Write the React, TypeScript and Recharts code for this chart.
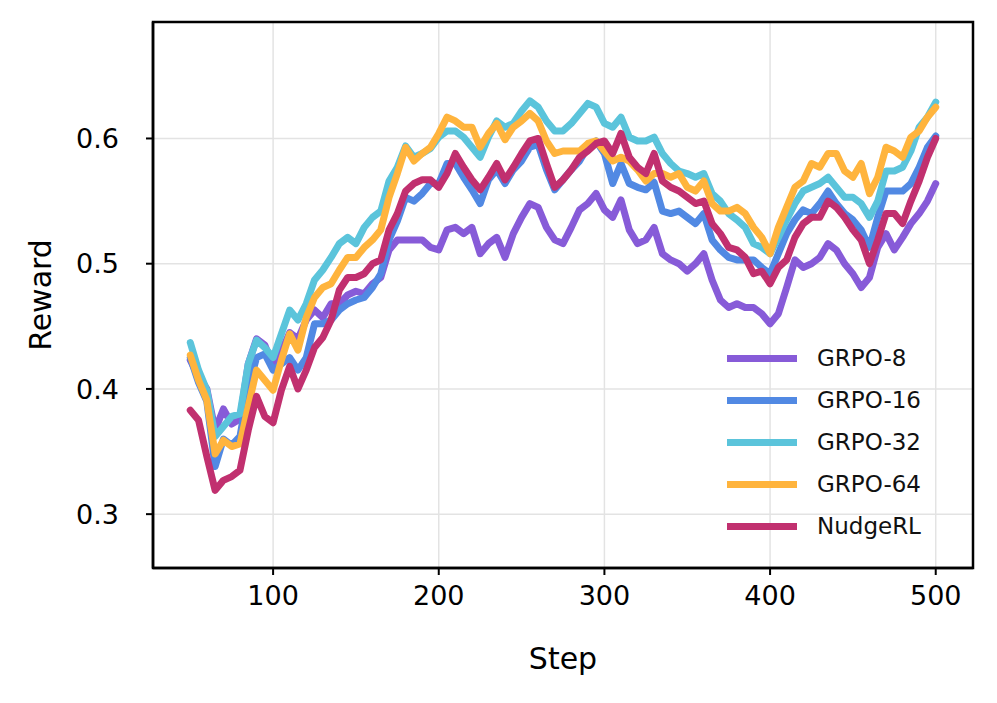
import React from "react";
import { LineChart, Line, XAxis, YAxis, CartesianGrid, Legend, Label, ReferenceArea } from "recharts";

// Training steps (every 5 steps from 50 to 500)
const steps: number[] = [];
for (let s = 50; s <= 500; s += 5) steps.push(s);

const grpo8 = [
  0.423, 0.41, 0.4, 0.367, 0.384, 0.372, 0.376, 0.42, 0.44, 0.435,
  0.418, 0.43, 0.445, 0.44, 0.455, 0.463, 0.457, 0.468, 0.468, 0.475,
  0.478, 0.476, 0.484, 0.489, 0.511, 0.519, 0.519, 0.519, 0.519, 0.513,
  0.511, 0.527, 0.529, 0.524, 0.529, 0.508, 0.516, 0.521, 0.505, 0.524,
  0.537, 0.548, 0.545, 0.529, 0.519, 0.516, 0.529, 0.543, 0.548, 0.556,
  0.543, 0.537, 0.551, 0.527, 0.516, 0.519, 0.529, 0.508, 0.503, 0.5,
  0.494, 0.5, 0.508, 0.487, 0.471, 0.465, 0.468, 0.465, 0.465, 0.46,
  0.452, 0.46, 0.481, 0.503, 0.497, 0.5, 0.505, 0.516, 0.511, 0.5,
  0.492, 0.481, 0.489, 0.513, 0.524, 0.511, 0.521, 0.532, 0.54, 0.55,
  0.564,
];

const grpo16 = [
  0.425, 0.405, 0.39, 0.338, 0.36, 0.355, 0.362, 0.4, 0.425, 0.428,
  0.415, 0.42, 0.425, 0.415, 0.425, 0.452, 0.452, 0.455, 0.463, 0.468,
  0.471, 0.473, 0.481, 0.492, 0.519, 0.534, 0.553, 0.55, 0.556, 0.564,
  0.564, 0.58, 0.58, 0.569, 0.559, 0.548, 0.567, 0.575, 0.564, 0.575,
  0.582, 0.593, 0.595, 0.575, 0.559, 0.567, 0.575, 0.582, 0.593, 0.598,
  0.588, 0.564, 0.58, 0.564, 0.561, 0.559, 0.565, 0.542, 0.54, 0.542,
  0.537, 0.532, 0.54, 0.519, 0.511, 0.505, 0.503, 0.503, 0.503, 0.497,
  0.492, 0.508, 0.524, 0.535, 0.543, 0.54, 0.548, 0.558, 0.548, 0.54,
  0.535, 0.527, 0.513, 0.537, 0.558, 0.558, 0.558, 0.564, 0.577, 0.593,
  0.602,
];

const grpo32 = [
  0.437, 0.415, 0.399, 0.362, 0.37, 0.378, 0.38, 0.42, 0.439, 0.433,
  0.425, 0.444, 0.463, 0.455, 0.468, 0.487, 0.495, 0.505, 0.516, 0.521,
  0.516, 0.529, 0.537, 0.542, 0.566, 0.577, 0.594, 0.585, 0.588, 0.592,
  0.601, 0.606, 0.606, 0.601, 0.593, 0.585, 0.601, 0.614, 0.609, 0.612,
  0.622, 0.63, 0.625, 0.614, 0.606, 0.606, 0.612, 0.62, 0.628, 0.625,
  0.612, 0.609, 0.617, 0.601, 0.598, 0.598, 0.601, 0.588, 0.58, 0.574,
  0.572, 0.569, 0.572, 0.556, 0.55, 0.54, 0.535, 0.529, 0.516, 0.513,
  0.508, 0.521, 0.535, 0.548, 0.558, 0.561, 0.564, 0.569, 0.561, 0.553,
  0.553, 0.548, 0.537, 0.55, 0.574, 0.574, 0.577, 0.59, 0.609, 0.617,
  0.629,
];

const grpo64 = [
  0.427, 0.407, 0.391, 0.348, 0.359, 0.354, 0.356, 0.386, 0.415, 0.407,
  0.399, 0.423, 0.444, 0.431, 0.457, 0.473, 0.481, 0.484, 0.495, 0.505,
  0.505, 0.513, 0.519, 0.527, 0.553, 0.572, 0.593, 0.582, 0.588, 0.593,
  0.604, 0.617, 0.614, 0.609, 0.609, 0.593, 0.604, 0.612, 0.599, 0.609,
  0.614, 0.62, 0.614, 0.598, 0.588, 0.59, 0.59, 0.59, 0.596, 0.598,
  0.59, 0.582, 0.585, 0.582, 0.575, 0.566, 0.572, 0.572, 0.569, 0.572,
  0.561, 0.558, 0.566, 0.548, 0.542, 0.542, 0.545, 0.54, 0.529, 0.521,
  0.508, 0.529, 0.545, 0.561, 0.566, 0.58, 0.577, 0.588, 0.588, 0.574,
  0.569, 0.58, 0.556, 0.569, 0.593, 0.59, 0.585, 0.601, 0.606, 0.617,
  0.625,
];

const nudgeRL = [
  0.383, 0.375, 0.346, 0.319, 0.327, 0.33, 0.335, 0.367, 0.394, 0.378,
  0.373, 0.399, 0.418, 0.4, 0.415, 0.433, 0.441, 0.455, 0.479, 0.489,
  0.489, 0.492, 0.5, 0.503, 0.527, 0.54, 0.558, 0.564, 0.567, 0.567,
  0.561, 0.572, 0.588, 0.577, 0.567, 0.559, 0.569, 0.58, 0.567, 0.577,
  0.588, 0.598, 0.6, 0.58, 0.561, 0.567, 0.575, 0.585, 0.59, 0.596,
  0.598, 0.588, 0.604, 0.585, 0.577, 0.572, 0.588, 0.566, 0.561, 0.558,
  0.553, 0.548, 0.55, 0.532, 0.524, 0.513, 0.511, 0.505, 0.492, 0.494,
  0.484, 0.497, 0.503, 0.521, 0.532, 0.537, 0.537, 0.55, 0.545, 0.537,
  0.527, 0.519, 0.5, 0.519, 0.54, 0.54, 0.532, 0.55, 0.566, 0.585,
  0.6,
];

const xTicks = [100, 200, 300, 400, 500];
const yTicks = [0.3, 0.4, 0.5, 0.6];
const xDomain: [number, number] = [27.5, 522.5];
const yDomain: [number, number] = [0.257, 0.693];

const seriesList = [
  { key: "grpo8", name: "GRPO-8", color: "#875BD8", values: grpo8 },
  { key: "grpo16", name: "GRPO-16", color: "#5189E3", values: grpo16 },
  { key: "grpo32", name: "GRPO-32", color: "#5BC4DB", values: grpo32 },
  { key: "grpo64", name: "GRPO-64", color: "#FFB43D", values: grpo64 },
  { key: "nudge", name: "NudgeRL", color: "#C1306F", values: nudgeRL },
];

const data = steps.map((step, i) => {
  const row: Record<string, number> = { step };
  seriesList.forEach((s) => {
    row[s.key] = s.values[i];
  });
  return row;
});

const FONT = "'DejaVu Sans', sans-serif";

function LegendBox() {
  return (
    <div style={{ fontFamily: FONT, fontSize: 23, color: "#111" }}>
      {seriesList.map((s) => (
        <div key={s.key} style={{ display: "flex", alignItems: "center", height: 42 }}>
          <div style={{ width: 70, height: 7, background: s.color, marginRight: 20 }} />
          <span>{s.name}</span>
        </div>
      ))}
    </div>
  );
}

export default function App() {
  return (
    <div style={{ position: "absolute", left: 0, top: 0, background: "#fff" }}>
      <LineChart
        width={997}
        height={703}
        data={data}
        margin={{ top: 22, right: 24, left: 0, bottom: 0 }}
      >
        <CartesianGrid stroke="#e3e3e3" strokeWidth={1.5} />
        <XAxis
          dataKey="step"
          type="number"
          domain={xDomain}
          ticks={xTicks}
          allowDataOverflow
          height={135}
          tickSize={7}
          tickMargin={11}
          axisLine={{ stroke: "#000", strokeWidth: 2.5 }}
          tickLine={{ stroke: "#000", strokeWidth: 2 }}
          tick={{ fill: "#000", fontSize: 27, fontFamily: FONT }}
        >
          <Label
            value="Step"
            position="insideBottom"
            offset={34}
            style={{ fill: "#000", fontSize: 30, fontFamily: FONT }}
          />
        </XAxis>
        <YAxis
          type="number"
          domain={yDomain}
          ticks={yTicks}
          allowDataOverflow
          width={153}
          tickSize={7}
          tickMargin={27}
          tickFormatter={(v: number) => v.toFixed(1)}
          axisLine={{ stroke: "#000", strokeWidth: 2.5 }}
          tickLine={{ stroke: "#000", strokeWidth: 2 }}
          tick={{ fill: "#000", fontSize: 27, fontFamily: FONT }}
        >
          <Label
            value="Reward"
            angle={-90}
            position="insideLeft"
            offset={40}
            style={{ fill: "#000", fontSize: 30, fontFamily: FONT, textAnchor: "middle" }}
          />
        </YAxis>
        {/* frame around the plotting area */}
        <ReferenceArea
          x1={xDomain[0]}
          x2={xDomain[1]}
          y1={yDomain[0]}
          y2={yDomain[1]}
          fill="none"
          fillOpacity={0}
          stroke="#000"
          strokeWidth={2.5}
          ifOverflow="visible"
        />
        {seriesList.map((s) => (
          <Line
            key={s.key}
            dataKey={s.key}
            name={s.name}
            stroke={s.color}
            strokeWidth={7}
            dot={false}
            type="linear"
            strokeLinejoin="round"
            strokeLinecap="round"
            isAnimationActive={false}
          />
        ))}
        <Legend
          layout="vertical"
          align="center"
          verticalAlign="middle"
          content={() => <LegendBox />}
          wrapperStyle={{ position: "absolute", left: 727, top: 337, width: 240 }}
        />
      </LineChart>
    </div>
  );
}
